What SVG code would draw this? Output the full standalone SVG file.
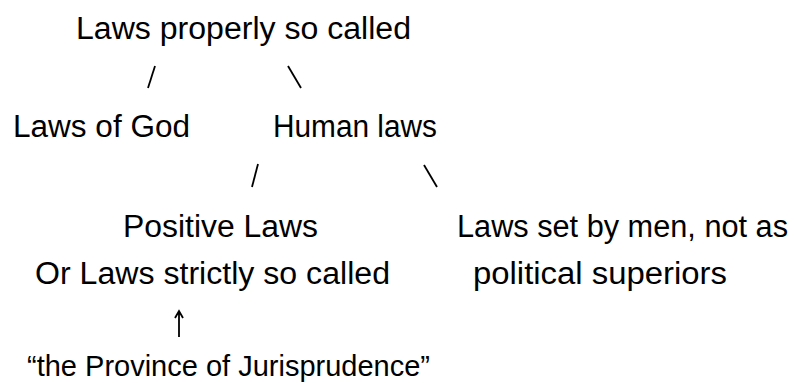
<svg xmlns="http://www.w3.org/2000/svg" width="794" height="383" viewBox="0 0 794 383">
<style>
text{font-family:"Liberation Sans","DejaVu Sans",sans-serif;font-size:31px;fill:#000}
.c{stroke:#000;stroke-width:1.8;fill:none;stroke-linecap:butt}
</style>
<rect width="794" height="383" fill="#fff"/>
<g id="connectors">
<line class="c" x1="155" y1="66" x2="148" y2="88"/>
<line class="c" x1="288" y1="66" x2="301" y2="88"/>
<line class="c" x1="258" y1="164" x2="252" y2="187"/>
<line class="c" x1="424" y1="165" x2="437" y2="187"/>
<path class="c" d="M179 337 V311 M175 318 L179 311 L183 318"/>
</g>
<g id="n-laws-properly"><text x="76" y="39" textLength="335" lengthAdjust="spacingAndGlyphs">Laws properly so called</text></g>
<g id="n-laws-god"><text x="13" y="137" textLength="177" lengthAdjust="spacingAndGlyphs">Laws of God</text></g>
<g id="n-human"><text x="273" y="137" textLength="164" lengthAdjust="spacingAndGlyphs">Human laws</text></g>
<g id="n-positive">
<text x="123" y="237" textLength="195" lengthAdjust="spacingAndGlyphs">Positive Laws</text>
<text x="35" y="284" textLength="355" lengthAdjust="spacingAndGlyphs">Or Laws strictly so called</text>
</g>
<g id="n-set-by-men">
<text x="457" y="237" textLength="331" lengthAdjust="spacingAndGlyphs">Laws set by men, not as</text>
<text x="473" y="284" textLength="254" lengthAdjust="spacingAndGlyphs">political superiors</text>
</g>
<g id="n-province"><text x="27" y="376" style="font-size:30px" textLength="403" lengthAdjust="spacingAndGlyphs">“the Province of Jurisprudence”</text></g>
</svg>
